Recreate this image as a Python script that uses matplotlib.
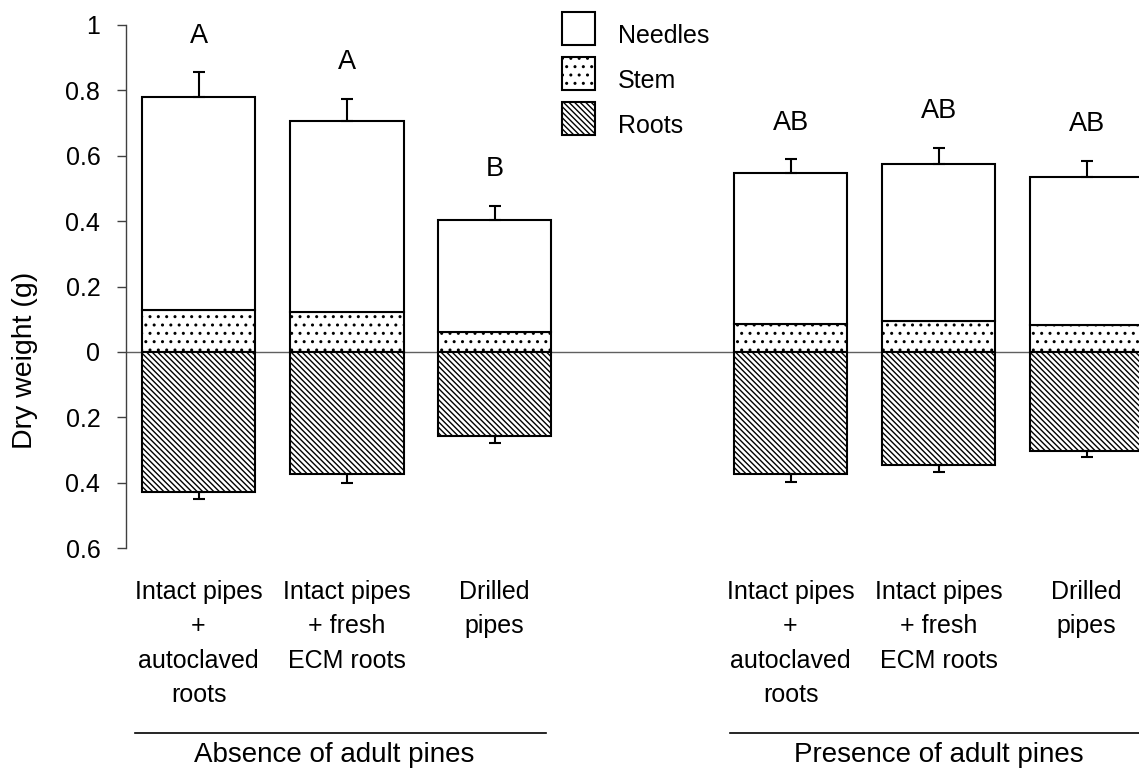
import numpy as np
import matplotlib
matplotlib.use("Agg")
import matplotlib.pyplot as plt
from matplotlib.transforms import blended_transform_factory
from matplotlib.patches import Rectangle
from matplotlib.legend_handler import HandlerPatch

plt.rcParams['font.family'] = ['Liberation Sans', 'DejaVu Sans']
plt.rcParams['hatch.color'] = 'black'
plt.rcParams['hatch.linewidth'] = 1.0

# ---- data ----
categories = ["Intact pipes\n+\nautoclaved\nroots",
              "Intact pipes\n+ fresh\nECM roots",
              "Drilled\npipes",
              "Intact pipes\n+\nautoclaved\nroots",
              "Intact pipes\n+ fresh\nECM roots",
              "Drilled\npipes"]
groups = ["Absence of adult pines", "Presence of adult pines"]
stem = np.array([0.128, 0.122, 0.061, 0.085, 0.095, 0.082])
needles = np.array([0.651, 0.583, 0.342, 0.461, 0.480, 0.453])
roots = np.array([0.428, 0.373, 0.257, 0.373, 0.345, 0.302])
shoot_err = np.array([0.076, 0.068, 0.043, 0.043, 0.049, 0.049])
root_err = np.array([0.021, 0.027, 0.021, 0.024, 0.021, 0.021])
letters = ["A", "A", "B", "AB", "AB", "AB"]
yticks = [1, 0.8, 0.6, 0.4, 0.2, 0, -0.2, -0.4, -0.6]
ytick_labels = ["1", "0.8", "0.6", "0.4", "0.2", "0", "0.2", "0.4", "0.6"]

# ---- layout ----
W, H = 1139, 769
fig = plt.figure(figsize=(W / 100, H / 100), dpi=100)
ax = fig.add_axes([126 / W, (H - 548) / H, 1 - 126 / W, (548 - 25) / H])

x = np.array([i + (1 if i >= 3 else 0) for i in range(len(categories))], dtype=float)
width = 0.77
lw = 1.5

b_stem = ax.bar(x, stem, width, color='white', edgecolor='black', linewidth=lw,
                hatch='..', label='Stem', zorder=2)
b_need = ax.bar(x, needles, width, bottom=stem, color='white', edgecolor='black',
                linewidth=lw, label='Needles', zorder=2)
b_root = ax.bar(x, -roots, width, color='white', edgecolor='black', linewidth=lw,
                hatch='\\\\\\\\\\\\', label='Roots', zorder=2)

total = stem + needles
zeros = np.zeros_like(total)
ax.errorbar(x, total, yerr=[zeros, shoot_err], fmt='none', ecolor='black',
            elinewidth=1.5, capsize=4, capthick=1.5, zorder=3)
ax.errorbar(x, -roots, yerr=[root_err, zeros], fmt='none', ecolor='black',
            elinewidth=1.5, capsize=4, capthick=1.5, zorder=3)

for xi, t, e, s in zip(x, total, shoot_err, letters):
    ax.annotate(s, (xi, t + e), xytext=(0, 26.5), textcoords='offset points',
                ha='center', va='center', fontsize=19.5)

ax.axhline(0, color='#606060', linewidth=1, zorder=1)

ax.set_ylim(-0.6, 1)
ax.set_xlim(-0.49, -0.49 + (W - 126) / 148)
ax.set_yticks(yticks)
ax.set_yticklabels(ytick_labels)
ax.set_xticks(x)
ax.set_xticklabels(categories)
for lab in ax.get_xticklabels():
    lab.set_linespacing(1.55)

for sp in ['top', 'right', 'bottom']:
    ax.spines[sp].set_visible(False)
ax.spines['left'].set_color('#404040')
ax.spines['left'].set_linewidth(1)
ax.tick_params(axis='y', direction='out', length=6.5, width=1, pad=12,
               labelsize=18, color='#404040')
ax.tick_params(axis='x', length=0, pad=23, labelsize=18)

fig.text(25 / W, 1 - 360 / H, "Dry weight (g)", rotation=90, ha='center',
         va='center', fontsize=20.5)

# group lines and labels
tr = blended_transform_factory(ax.transData, fig.transFigure)
group_spans = [(-0.43, 2.35), (3.59, 6.36)]
group_centers = [0.92, 5.0]
for (a, b), c, g in zip(group_spans, group_centers, groups):
    ax.plot([a, b], [1 - 733 / H, 1 - 733 / H], color='black', linewidth=1.2,
            transform=tr, clip_on=False)
    ax.text(c, 1 - 755 / H, g, transform=tr, ha='center', va='center', fontsize=20)


# legend: square boxes sitting just below the text baseline
BOX = 23.76  # points (33 px)


def box_patch(legend, orig_handle, xdescent, ydescent, width, height, fontsize):
    return Rectangle((-xdescent, -1.44), BOX, BOX)


h_need, h_stem, h_root = b_need.patches[0], b_stem.patches[0], b_root.patches[0]
fig.legend([h_need, h_stem, h_root], ['Needles', 'Stem', 'Roots'],
           loc='upper left', bbox_to_anchor=(562 / W, 1 - 18.4 / H),
           frameon=False, fontsize=18, borderpad=0, borderaxespad=0,
           handlelength=1.32, handleheight=1.654, handletextpad=0.92,
           labelspacing=0.48,
           handler_map={h_need: HandlerPatch(patch_func=box_patch),
                        h_stem: HandlerPatch(patch_func=box_patch),
                        h_root: HandlerPatch(patch_func=box_patch)})

fig.savefig("out.png", dpi=100)
